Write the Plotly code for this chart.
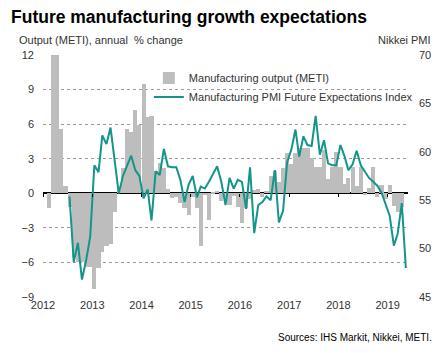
import plotly.graph_objects as go
import pandas as pd

# Monthly slots Jan 2012 .. May 2019
months = pd.date_range("2012-01-01", periods=89, freq="MS")
mid_months = months + pd.Timedelta(days=15)

# Manufacturing output (METI), annual % change (Jan 2012 .. Apr 2019)
output_yoy = [None, -1.3, 14.2, 12.9, 5.6, 0.6, -1.2, -5.5, -6.0, -6.0, -6.4, -6.4,
              -8.3, -6.5, -5.1, -4.6, -4.4, -1.6, 0.3, 2.2, 5.6, 5.35, 7.2, 5.9,
              9.5, 6.6, 6.7, 1.9, 2.6, 2.2, 0.4, -0.4, -0.3, -0.8, -1.3, -1.9,
              -0.3, -1.3, -4.6, -0.1, -2.3, 0.1, 0.2, -0.7, -0.3, -1.0, -0.2, -1.2,
              -2.6, -1.3, -0.5, 0.3, 0.4, -0.3, 0.2, 1.5, 1.9, 1.0, 2.2, 3.5,
              2.5, 3.5, 3.9, 3.9, 3.9, 3.1, 2.3, 2.3, 3.8, 1.2, 2.3, 3.6,
              2.3, 0.8, 1.3, 2.3, 0.6, 2.3, -0.1, 0.5, 2.3, -0.3, 0.7, -0.5,
              0.7, -1.1, -1.6, -1.2, None]

# Manufacturing PMI Future Expectations Index (Jul 2012 .. May 2019)
pmi_future = [None] * 6 + [
    55.4, 48.6, 50.6, 46.8, 48.8, 51.2,
    58.6, 57.9, 61.7, 60.8, 62.5, 59.1, 55.7, 57.5, 58.6, 59.6, 58.1, 57.5,
    55.2, 56.1, 52.9, 58.0, 57.6, 60.3, 58.5, 58.4, 58.4, 57.1, 54.8, 56.6,
    57.5, 55.3, 56.4, 56.2, 56.9, 57.7, 58.5, 56.9, 54.5, 57.3, 56.2, 57.1,
    56.9, 54.1, 58.4, 51.6, 54.5, 54.8, 55.4, 55.0, 58.1, 52.7, 53.9, 58.9,
    60.2, 62.3, 59.5, 61.6, 60.7, 60.6, 63.7, 59.7, 61.2, 58.8, 58.6, 58.6,
    60.7, 59.5, 58.1, 58.7, 60.1, 58.6, 57.9, 57.3, 56.9, 56.5, 55.8, 54.7,
    53.4, 50.3, 51.5, 54.7, 48.0]

left_ticks = [-9, -6, -3, 0, 3, 6, 9, 12]
right_ticks = [45, 50, 55, 60, 65, 70]
year_ticks = pd.date_range("2012-01-01", "2019-01-01", freq="YS")
year_labels = [str(d.year) for d in year_ticks]

FONT = "Arial, 'Liberation Sans', sans-serif"
GREY_TXT = "#333333"
x_range = [months[0], months[-1] + pd.offsets.MonthBegin(1)]

fig = go.Figure()
fig.add_trace(go.Bar(
    x=mid_months, y=output_yoy, name="Manufacturing output (METI)",
    marker=dict(color="#BDBDBD", line=dict(width=0)),
    width=30.4 * 86400000, yaxis="y", xaxis="x", legend="legend"))
fig.add_trace(go.Scatter(
    x=mid_months, y=pmi_future, name="Manufacturing PMI Future Expectations Index",
    mode="lines", line=dict(color="#13968A", width=2), yaxis="y2", xaxis="x",
    connectgaps=False, legend="legend2"))
# invisible helper so the tick-mark axis on the zero line is drawn
fig.add_trace(go.Scatter(x=[months[0]], y=[0], mode="markers", marker=dict(opacity=0),
                         showlegend=False, hoverinfo="skip", xaxis="x2", yaxis="y"))

leg_common = dict(xanchor="left", yanchor="middle", bgcolor="rgba(0,0,0,0)",
                  font=dict(size=11, color=GREY_TXT), itemwidth=30)

fig.update_layout(
    width=447, height=353,
    margin=dict(l=42.7, r=39.4, t=55, b=56),
    paper_bgcolor="white", plot_bgcolor="white",
    font=dict(family=FONT, size=11, color=GREY_TXT),
    bargap=0,
    showlegend=True,
    legend=dict(x=0.29, y=1 - 23 / 242, **leg_common),
    legend2=dict(x=0.29, y=1 - 42 / 242, **leg_common),
    title=dict(text="<b>Future manufacturing growth expectations</b>",
               x=11 / 447, xref="container", xanchor="left",
               y=1 - 17 / 353, yref="container", yanchor="middle",
               font=dict(family=FONT, size=17.5, color="black")),
    xaxis=dict(type="date", range=x_range, tickvals=year_ticks, ticktext=year_labels,
               showgrid=False, zeroline=False, showline=False, ticks="",
               tickfont=dict(size=11, color=GREY_TXT)),
    xaxis2=dict(type="date", range=x_range, overlaying="x", anchor="free",
                position=9 / 21, tickvals=year_ticks, ticks="outside", ticklen=3,
                tickcolor="black", tickwidth=1, showticklabels=False,
                showgrid=False, zeroline=False, showline=False),
    yaxis=dict(range=[-9, 12], tickvals=left_ticks, showgrid=True,
               gridcolor="#9a9a9a", griddash="dot", gridwidth=1,
               zeroline=True, zerolinecolor="black", zerolinewidth=1.5,
               ticks="", ticklabelstandoff=8, tickfont=dict(size=11, color=GREY_TXT)),
    yaxis2=dict(range=[45, 70], tickvals=right_ticks, overlaying="y", side="right",
                showgrid=False, zeroline=False, ticks="", ticklabelstandoff=10,
                tickfont=dict(size=11, color=GREY_TXT)),
    annotations=[
        dict(text="Output (METI), annual  % change", xref="paper", yref="paper",
             x=(16.7 - 42.7) / 364.9, y=1 + 15 / 242, xanchor="left", yanchor="middle",
             showarrow=False, font=dict(size=11, color=GREY_TXT)),
        dict(text="Nikkei PMI", xref="paper", yref="paper",
             x=(433 - 42.7) / 364.9, y=1 + 15 / 242, xanchor="right", yanchor="middle",
             showarrow=False, font=dict(size=11, color=GREY_TXT)),
        dict(text="Sources: IHS Markit, Nikkei, METI.", xref="paper", yref="paper",
             x=(434 - 42.7) / 364.9, y=(297 - 337) / 242, xanchor="right", yanchor="middle",
             showarrow=False, font=dict(size=10, color="black")),
    ],
)

fig.write_html("out.html")
